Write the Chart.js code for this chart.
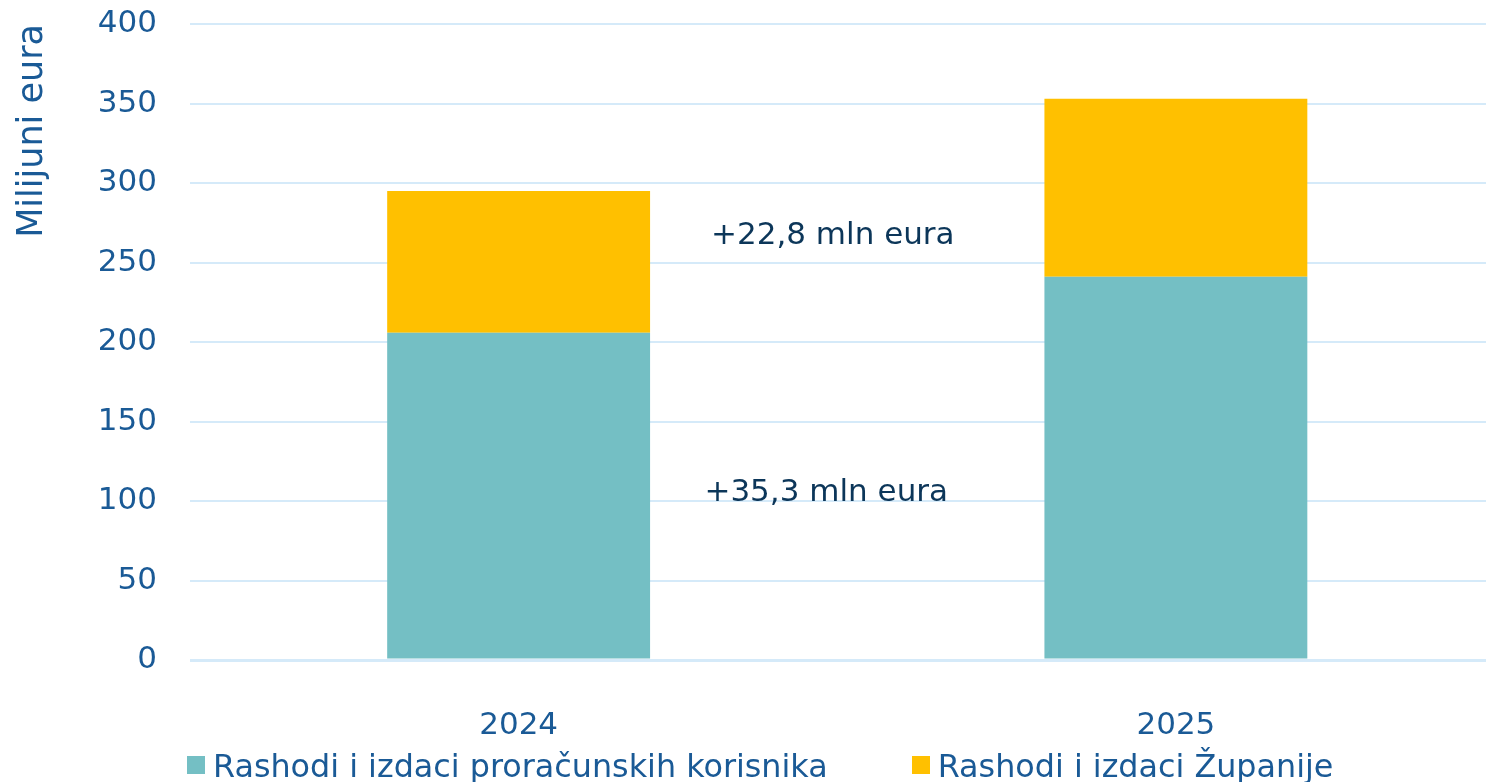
<!DOCTYPE html>
<html>
<head>
<meta charset="utf-8">
<script src="https://cdn.jsdelivr.net/npm/chart.js@4/dist/chart.umd.min.js"></script>
<style>
  html, body { margin: 0; padding: 0; background: #fff; overflow: hidden; }
  #wrap { position: relative; width: 1520px; height: 782px; }
  #legend {
    position: absolute; left: 187px; top: 745px; height: 40px;
    display: flex; align-items: center; gap: 84px;
    font-family: 'DejaVu Sans', sans-serif; font-size: 31.8px; color: #1A5A96;
    white-space: nowrap;
  }
  .item { display: flex; align-items: center; }
  .box { width: 18px; height: 18px; margin-right: 8px; }
</style>
</head>
<body>
<div id="wrap">
  <canvas id="chart"></canvas>
  <div id="legend"></div>
</div>
<script>
const years = ['2024', '2025'];
const seriesNames = ['Rashodi i izdaci proračunskih korisnika', 'Rashodi i izdaci Županije'];
const korisnici = [205.8, 241.1];
const zupanija = [89.1, 111.9];
const colors = ['#74BFC4', '#FFC000'];

const blue = '#1A5A96';
Chart.defaults.font.family = "'DejaVu Sans', sans-serif";

// "+x mln eura" labels between the bars, text comes from the differences
const diffLabels = {
  id: 'diffLabels',
  afterDatasetsDraw(chart) {
    const { ctx, scales: { x, y } } = chart;
    const fmt = v => '+' + v.toFixed(1).replace('.', ',') + ' mln eura';
    ctx.save();
    ctx.font = "31px 'DejaVu Sans'";
    ctx.fillStyle = '#0C3659';
    ctx.textAlign = 'center';
    ctx.textBaseline = 'middle';
    ctx.fillText(fmt(zupanija[1] - zupanija[0]), x.getPixelForValue(0.478), y.getPixelForValue(266.7));
    ctx.fillText(fmt(korisnici[1] - korisnici[0]), x.getPixelForValue(0.468), y.getPixelForValue(105.2));
    ctx.restore();
  }
};

new Chart(document.getElementById('chart'), {
  type: 'bar',
  data: {
    labels: years,
    datasets: [
      { label: seriesNames[0], data: korisnici, backgroundColor: colors[0] },
      { label: seriesNames[1], data: zupanija, backgroundColor: colors[1] }
    ]
  },
  options: {
    responsive: true,
    maintainAspectRatio: false,
    animation: false,
    layout: { padding: { left: 12, right: 15.5, top: 24, bottom: 41 } },
    datasets: { bar: { categoryPercentage: 1, barPercentage: 0.4, borderWidth: 0 } },
    plugins: { legend: { display: false }, tooltip: { enabled: false } },
    scales: {
      x: {
        stacked: true,
        afterFit: s => { s.height = 81; },
        grid: { display: false, drawTicks: false },
        border: { display: false },
        ticks: { color: blue, font: { size: 31 }, padding: 47 }
      },
      y: {
        stacked: true,
        min: 0,
        max: 400,
        afterFit: s => { s.width = 178; s.paddingTop = 0; s.paddingBottom = 0; },
        grid: {
          color: '#D5EAF9',
          lineWidth: c => (c.tick && c.tick.value === 0 ? 3 : 2),
          drawTicks: false
        },
        border: { display: false },
        ticks: { stepSize: 50, color: blue, font: { size: 31 }, padding: 33 },
        title: {
          display: true,
          text: 'Milijuni eura',
          color: blue,
          font: { size: 35 },
          align: 'end',
          padding: 0
        }
      }
    }
  },
  plugins: [diffLabels]
});

// legend below the chart
const legend = document.getElementById('legend');
seriesNames.forEach((name, i) => {
  const item = document.createElement('div');
  item.className = 'item';
  const box = document.createElement('span');
  box.className = 'box';
  box.style.background = colors[i];
  const txt = document.createElement('span');
  txt.textContent = name;
  item.appendChild(box);
  item.appendChild(txt);
  legend.appendChild(item);
});
</script>
</body>
</html>
